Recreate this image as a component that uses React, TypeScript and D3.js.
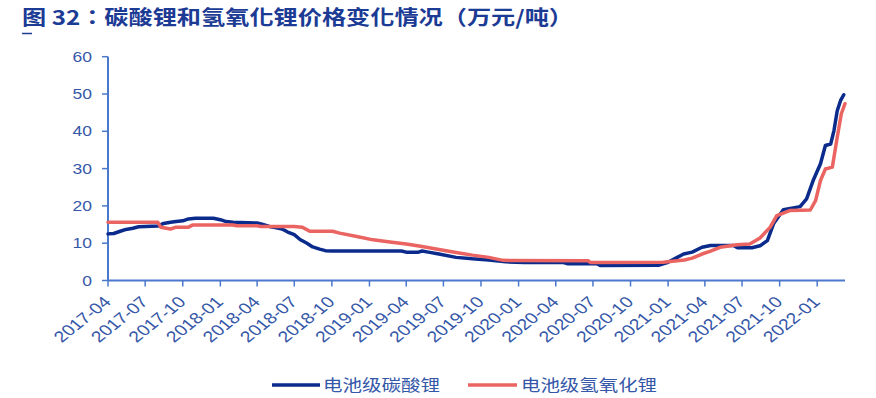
import React, { useEffect, useRef } from 'react'
import { select, scaleLinear, scaleTime, timeParse, line, curveLinear } from 'd3'

// 电池级碳酸锂 (万元/吨)
const carbonateData: [string, number][] = [
  ['2017-04-01', 12.5], ['2017-04-15', 12.6], ['2017-05-01', 13.2], ['2017-05-15', 13.7],
  ['2017-06-01', 14.0], ['2017-06-15', 14.4], ['2017-07-01', 14.5], ['2017-08-01', 14.6],
  ['2017-08-15', 15.3], ['2017-09-01', 15.6], ['2017-09-15', 15.8], ['2017-10-01', 16.0],
  ['2017-10-15', 16.5], ['2017-11-01', 16.7], ['2017-12-15', 16.7], ['2018-01-01', 16.3],
  ['2018-01-15', 15.8], ['2018-02-01', 15.6], ['2018-04-01', 15.4], ['2018-04-15', 15.0],
  ['2018-05-01', 14.5], ['2018-05-15', 14.2], ['2018-06-01', 13.8], ['2018-06-15', 13.0],
  ['2018-07-01', 12.3], ['2018-07-15', 11.0], ['2018-08-01', 10.0], ['2018-08-15', 9.0],
  ['2018-09-01', 8.4], ['2018-09-15', 8.0], ['2018-10-01', 7.9], ['2019-03-20', 7.9],
  ['2019-04-01', 7.6], ['2019-05-01', 7.6], ['2019-05-10', 7.9], ['2019-05-25', 7.6],
  ['2019-06-20', 7.1], ['2019-08-01', 6.2], ['2019-09-10', 5.8], ['2019-10-20', 5.5],
  ['2019-12-01', 5.0], ['2020-01-15', 4.8], ['2020-04-20', 4.8], ['2020-05-01', 4.5],
  ['2020-07-10', 4.5], ['2020-07-20', 4.0], ['2020-12-10', 4.1], ['2021-01-01', 4.9],
  ['2021-01-20', 6.0], ['2021-02-08', 7.1], ['2021-03-01', 7.6], ['2021-03-25', 8.9],
  ['2021-04-15', 9.4], ['2021-06-10', 9.4], ['2021-06-20', 8.8], ['2021-07-25', 8.8],
  ['2021-08-14', 9.3], ['2021-09-01', 10.7], ['2021-09-16', 15.2], ['2021-10-10', 19.0],
  ['2021-11-20', 19.8], ['2021-12-06', 21.9], ['2021-12-22', 26.8], ['2022-01-09', 31.3],
  ['2022-01-21', 36.2], ['2022-02-03', 36.6], ['2022-02-11', 40.2], ['2022-02-19', 45.5],
  ['2022-02-27', 48.2], ['2022-03-07', 49.8],
]

// 电池级氢氧化锂 (万元/吨)
const hydroxideData: [string, number][] = [
  ['2017-04-01', 15.6], ['2017-08-01', 15.6], ['2017-08-08', 14.3], ['2017-09-01', 13.8],
  ['2017-09-15', 14.3], ['2017-10-15', 14.3], ['2017-10-26', 14.9], ['2018-02-01', 14.9],
  ['2018-02-10', 14.7], ['2018-04-01', 14.7], ['2018-04-10', 14.5], ['2018-07-01', 14.5],
  ['2018-07-20', 14.3], ['2018-08-08', 13.2], ['2018-10-03', 13.2], ['2018-10-20', 12.7],
  ['2018-12-01', 11.8], ['2019-01-10', 10.9], ['2019-02-20', 10.3], ['2019-04-01', 9.8],
  ['2019-05-10', 9.1], ['2019-06-20', 8.3], ['2019-08-01', 7.5], ['2019-09-10', 6.8],
  ['2019-10-20', 6.2], ['2019-11-24', 5.4], ['2020-06-19', 5.3], ['2020-06-25', 4.8],
  ['2020-12-20', 4.9], ['2021-02-10', 5.5], ['2021-03-01', 6.0], ['2021-03-25', 7.1],
  ['2021-04-15', 7.9], ['2021-05-08', 8.9], ['2021-06-19', 9.6], ['2021-07-20', 9.8],
  ['2021-08-14', 11.4], ['2021-09-08', 14.3], ['2021-09-24', 17.4], ['2021-10-27', 18.8],
  ['2021-12-15', 18.9], ['2021-12-28', 21.4], ['2022-01-09', 26.8], ['2022-01-21', 29.9],
  ['2022-02-07', 30.4], ['2022-02-19', 38.4], ['2022-03-01', 44.7], ['2022-03-10', 47.4],
]

const yTicks = [0, 10, 20, 30, 40, 50, 60]
const xTickLabels = [
  '2017-04', '2017-07', '2017-10', '2018-01', '2018-04', '2018-07', '2018-10',
  '2019-01', '2019-04', '2019-07', '2019-10', '2020-01', '2020-04', '2020-07',
  '2020-10', '2021-01', '2021-04', '2021-07', '2021-10', '2022-01',
]
const seriesNames = ['电池级碳酸锂', '电池级氢氧化锂']
const title = '图 32：碳酸锂和氢氧化锂价格变化情况（万元/吨）'

function App() {
  const ref = useRef<SVGSVGElement>(null)

  useEffect(() => {
    const svg = select(ref.current)
    svg.selectAll('*').remove()

    const parseDate = timeParse('%Y-%m-%d')
    const axisColor = '#4A78CC'
    const labelColor = '#3557A8'
    const blue = '#0A2B8C'
    const red = '#EA6461'
    const latin = '"Liberation Sans", Arial, sans-serif'
    const cjk = '"Noto Sans CJK SC", sans-serif'

    const x = scaleTime()
      .domain([parseDate('2017-04-01')!, parseDate('2022-03-10')!])
      .range([108, 845])
    const y = scaleLinear().domain([0, 60]).range([280.5, 56.7])

    // title (TC font gives centred full-width punctuation)
    svg.append('text')
      .attr('x', 22)
      .attr('y', 25)
      .attr('textLength', 551)
      .attr('lengthAdjust', 'spacingAndGlyphs')
      .style('font-family', '"Noto Sans CJK TC", "Noto Sans CJK SC", sans-serif')
      .style('font-weight', 'bold')
      .style('font-size', '20px')
      .style('fill', '#1C3B95')
      .text(title)
    svg.append('line')
      .attr('x1', 22).attr('x2', 32)
      .attr('y1', 33.5).attr('y2', 33.5)
      .style('stroke', '#1C3B95')
      .style('stroke-width', 1.5)

    // y axis
    svg.append('line')
      .attr('x1', 108).attr('x2', 108)
      .attr('y1', y(60)).attr('y2', y(0))
      .style('stroke', axisColor).style('stroke-width', 2)
    const yt = svg.append('g').selectAll('g').data(yTicks).join('g')
    yt.append('line')
      .attr('x1', 102).attr('x2', 108)
      .attr('y1', d => y(d)).attr('y2', d => y(d))
      .style('stroke', axisColor).style('stroke-width', 1.5)
    yt.append('text')
      .attr('transform', d => `translate(92,${y(d) + 5}) scale(1.25,1)`)
      .attr('text-anchor', 'end')
      .style('font-family', latin)
      .style('font-size', '14px')
      .style('fill', labelColor)
      .text(d => d)

    // x axis
    svg.append('line')
      .attr('x1', 108).attr('x2', 845)
      .attr('y1', y(0)).attr('y2', y(0))
      .style('stroke', axisColor).style('stroke-width', 2)
    const xt = svg.append('g').selectAll('g').data(xTickLabels).join('g')
    xt.append('line')
      .attr('x1', d => x(parseDate(d + '-01')!)).attr('x2', d => x(parseDate(d + '-01')!))
      .attr('y1', y(0)).attr('y2', y(0) + 6)
      .style('stroke', axisColor).style('stroke-width', 1.5)
    xt.append('text')
      .attr('transform', d => `translate(${x(parseDate(d + '-01')!) + 4},303) scale(1.25,1) rotate(-45)`)
      .attr('text-anchor', 'end')
      .style('font-family', latin)
      .style('font-size', '15.5px')
      .style('fill', labelColor)
      .text(d => d)

    // lines
    const path = line<[string, number]>()
      .x(d => x(parseDate(d[0])!))
      .y(d => y(d[1]))
      .curve(curveLinear)

    svg.append('path')
      .datum(carbonateData)
      .attr('d', path)
      .style('fill', 'none')
      .style('stroke', blue)
      .style('stroke-width', 3.5)
      .style('stroke-linejoin', 'round')
      .style('stroke-linecap', 'round')

    svg.append('path')
      .datum(hydroxideData)
      .attr('d', path)
      .style('fill', 'none')
      .style('stroke', red)
      .style('stroke-width', 3.5)
      .style('stroke-linejoin', 'round')
      .style('stroke-linecap', 'round')

    // legend
    const legend = [
      { name: seriesNames[0], color: blue, x1: 272, x2: 320, tx: 323, len: 117 },
      { name: seriesNames[1], color: red, x1: 468, x2: 517, tx: 521, len: 136 },
    ]
    legend.forEach(l => {
      svg.append('line')
        .attr('x1', l.x1).attr('x2', l.x2)
        .attr('y1', 385).attr('y2', 385)
        .style('stroke', l.color).style('stroke-width', 3.5)
      svg.append('text')
        .attr('x', l.tx)
        .attr('y', 391)
        .attr('textLength', l.len)
        .attr('lengthAdjust', 'spacingAndGlyphs')
        .style('font-family', cjk)
        .style('font-size', '16px')
        .style('fill', labelColor)
        .text(l.name)
    })
  }, [])

  return (
    <div style={{ position: 'absolute', left: 0, top: 0 }}>
      <svg ref={ref} width={876} height={398} style={{ display: 'block', background: '#fff' }} />
    </div>
  )
}

export default App
